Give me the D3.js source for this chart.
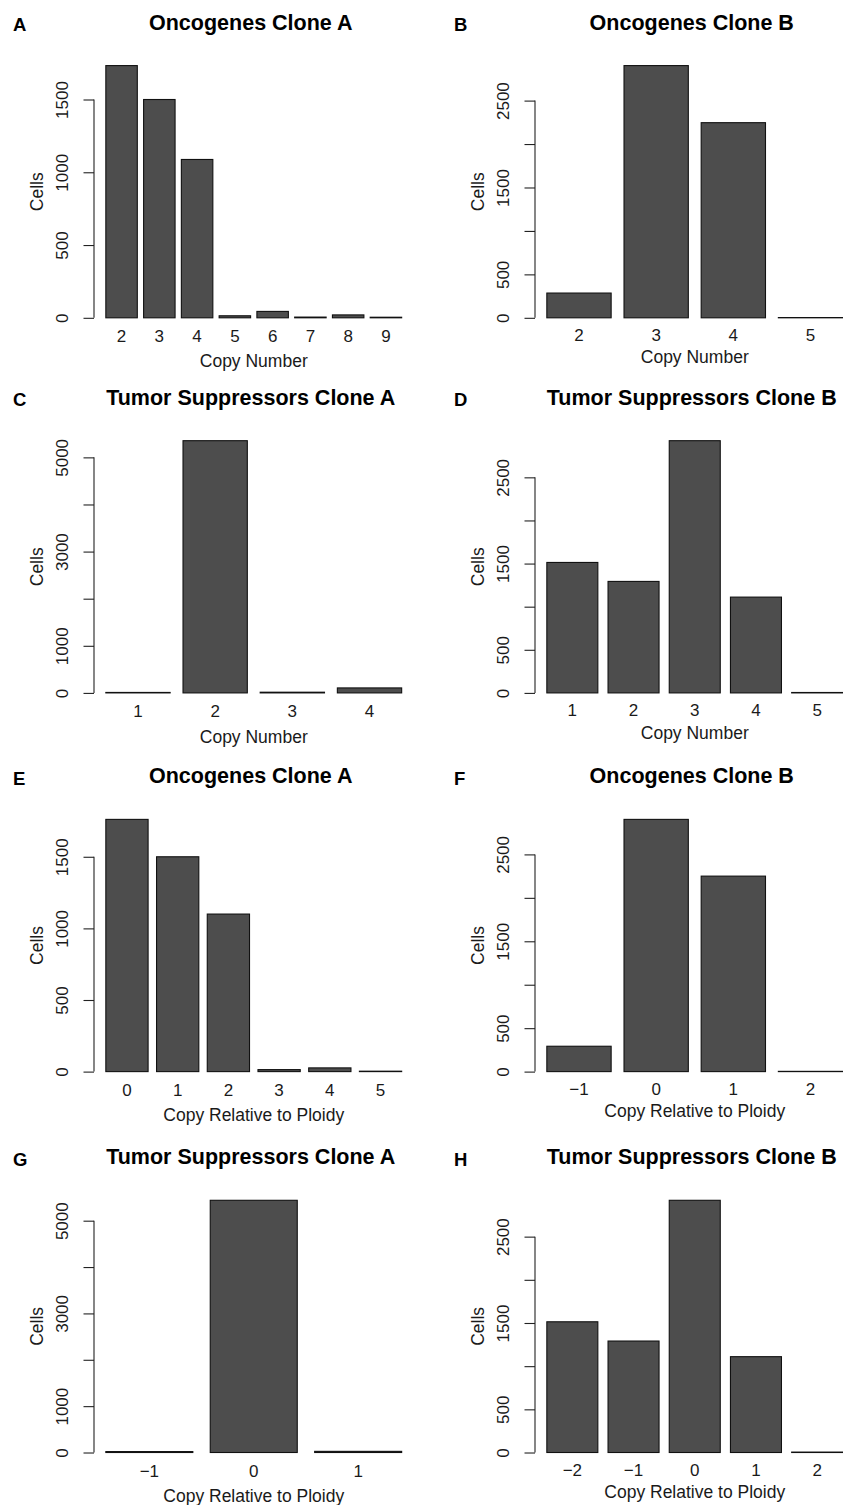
<!DOCTYPE html>
<html>
<head>
<meta charset="utf-8">
<script src="https://cdn.jsdelivr.net/npm/d3@7"></script>
<style>
  html, body { margin: 0; padding: 0; background: #fff; overflow: hidden; }
  svg { display: block; font-family: "Liberation Sans", Arial, Helvetica, sans-serif; }
</style>
</head>
<body>
<svg id="chart" width="843" height="1505"></svg>
<script>
// panel labels and titles
const panelLetters = ['A', 'B', 'C', 'D', 'E', 'F', 'G', 'H'];
const panelTitles = [
  'Oncogenes Clone A', 'Oncogenes Clone B',
  'Tumor Suppressors Clone A', 'Tumor Suppressors Clone B',
  'Oncogenes Clone A', 'Oncogenes Clone B',
  'Tumor Suppressors Clone A', 'Tumor Suppressors Clone B'
];
const xTitles = [
  'Copy Number', 'Copy Number', 'Copy Number', 'Copy Number',
  'Copy Relative to Ploidy', 'Copy Relative to Ploidy',
  'Copy Relative to Ploidy', 'Copy Relative to Ploidy'
];
const yTitle = 'Cells';

// categories and counts
const catsA = ['2', '3', '4', '5', '6', '7', '8', '9'];
const valsA = [1733, 1500, 1088, 14, 44, 5, 20, 4];
const catsB = ['2', '3', '4', '5'];
const valsB = [285, 2903, 2246, 3];
const catsC = ['1', '2', '3', '4'];
const valsC = [10, 5354, 15, 106];
const catsD = ['1', '2', '3', '4', '5'];
const valsD = [1513, 1293, 2925, 1111, 5];
const catsE = ['0', '1', '2', '3', '4', '5'];
const valsE = [1761, 1500, 1100, 14, 26, 3];
const catsF = ['\u22121', '0', '1', '2'];
const valsF = [292, 2903, 2250, 3];
const catsG = ['\u22121', '0', '1'];
const valsG = [20, 5440, 25];
const catsH = ['\u22122', '\u22121', '0', '1', '2'];
const valsH = [1514, 1291, 2921, 1110, 5];

// y ticks (R pretty) and which of them get a label
const ticks1500 = [0, 500, 1000, 1500];
const labels1500 = [0, 500, 1000, 1500];
const ticks2500 = [0, 500, 1000, 1500, 2000, 2500];
const labels2500 = [0, 500, 1500, 2500];
const ticks5000 = [0, 1000, 2000, 3000, 4000, 5000];
const labels5000 = [0, 1000, 3000, 5000];

const panels = [
  { cats: catsA, vals: valsA, ticks: ticks1500, labels: labels1500 },
  { cats: catsB, vals: valsB, ticks: ticks2500, labels: labels2500 },
  { cats: catsC, vals: valsC, ticks: ticks5000, labels: labels5000 },
  { cats: catsD, vals: valsD, ticks: ticks2500, labels: labels2500 },
  { cats: catsE, vals: valsE, ticks: ticks1500, labels: labels1500 },
  { cats: catsF, vals: valsF, ticks: ticks2500, labels: labels2500 },
  { cats: catsG, vals: valsG, ticks: ticks5000, labels: labels5000 },
  { cats: catsH, vals: valsH, ticks: ticks2500, labels: labels2500 }
];

// layout
const colLeft = [94, 535];
const rowTop = [55.5, 430.6, 809.3, 1190.2];
const plotW = 319.5;
const plotH = 272.4;
const tickBaseline = [14, 13];
const xTitleBaseline = [39.5, 35.5];

const svg = d3.select('#chart');

panels.forEach((p, i) => {
  const col = i % 2;
  const row = Math.floor(i / 2);
  const left = colLeft[col];
  const top = rowTop[row];
  const bottom = top + plotH;
  const n = p.cats.length;

  // R barplot geometry: width 1, space 0.2, 4% axis expansion
  const span = n * 1.2 - 0.2;
  const x = d3.scaleLinear()
    .domain([0.2 - 0.04 * span, n * 1.2 + 0.04 * span])
    .range([left, left + plotW]);
  const maxV = d3.max(p.vals);
  const y = d3.scaleLinear()
    .domain([-0.04 * maxV, 1.04 * maxV])
    .range([bottom, top]);

  const g = svg.append('g');

  g.selectAll('.bar')
    .data(p.vals)
    .enter()
    .append('rect')
    .attr('class', 'bar')
    .attr('x', (d, j) => x(0.2 + j * 1.2))
    .attr('y', d => y(d))
    .attr('width', (d, j) => x(1.2 + j * 1.2) - x(0.2 + j * 1.2))
    .attr('height', d => y(0) - y(d))
    .style('fill', '#4d4d4d')
    .style('stroke', '#111')
    .style('stroke-width', 1.1);

  // x category labels, no axis line
  g.selectAll('.xlab')
    .data(p.cats)
    .enter()
    .append('text')
    .attr('class', 'xlab')
    .attr('x', (d, j) => x(0.7 + j * 1.2))
    .attr('y', bottom + tickBaseline[col])
    .attr('text-anchor', 'middle')
    .style('font-size', '17px')
    .style('fill', '#1a1a1a')
    .text(d => d);

  // y axis
  const yAxis = g.append('g')
    .attr('transform', `translate(${left},0)`)
    .call(d3.axisLeft(y)
      .tickValues(p.ticks)
      .tickSize(10.5)
      .tickPadding(0)
      .tickFormat(d => p.labels.includes(d) ? d : ''));
  yAxis.select('.domain').remove();
  yAxis.selectAll('.tick line').style('stroke', '#222').style('stroke-width', 1.1);
  yAxis.selectAll('.tick text')
    .attr('x', 0)
    .attr('dy', null)
    .attr('transform', 'translate(-25.7,0) rotate(-90)')
    .attr('text-anchor', 'middle')
    .style('font-size', '17px')
    .style('font-family', '"Liberation Sans", Arial, Helvetica, sans-serif')
    .style('fill', '#1a1a1a');
  yAxis.append('line')
    .attr('x1', 0).attr('x2', 0)
    .attr('y1', y(0)).attr('y2', y(d3.max(p.ticks)))
    .style('stroke', '#222')
    .style('stroke-width', 1.1);

  // axis titles
  g.append('text')
    .attr('x', left + plotW / 2)
    .attr('y', bottom + xTitleBaseline[col])
    .attr('text-anchor', 'middle')
    .style('font-size', '17.5px')
    .style('fill', '#1a1a1a')
    .text(xTitles[i]);

  g.append('text')
    .attr('transform', `translate(${left - 51.5},${top + plotH / 2}) rotate(-90)`)
    .attr('text-anchor', 'middle')
    .style('font-size', '17.5px')
    .style('fill', '#1a1a1a')
    .text(yTitle);

  // title and panel letter
  g.append('text')
    .attr('x', left + plotW / 2 - 3)
    .attr('y', top - 26)
    .attr('text-anchor', 'middle')
    .style('font-size', '21.5px')
    .style('font-weight', 'bold')
    .style('fill', '#000')
    .text(panelTitles[i]);

  g.append('text')
    .attr('x', left - 81)
    .attr('y', top - 24.5)
    .style('font-size', '18.5px')
    .style('font-weight', 'bold')
    .style('fill', '#000')
    .text(panelLetters[i]);
});
</script>
</body>
</html>
